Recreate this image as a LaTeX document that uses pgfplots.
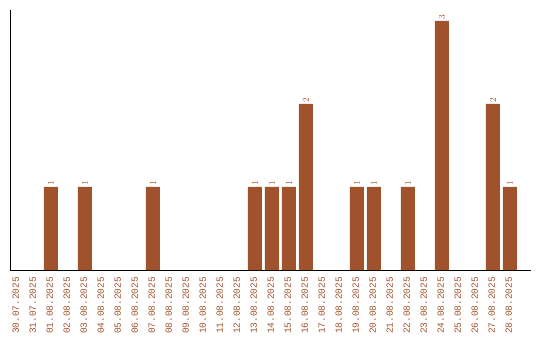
\documentclass[border=0pt]{standalone}
\usepackage{pgfplots}
\pgfplotsset{compat=1.18}
\usepackage{fontspec}
\setmainfont{Liberation Mono}
\definecolor{bar}{HTML}{A0522D}
\begin{document}
\begin{tikzpicture}[x=1bp,y=1bp]
\useasboundingbox (-10bp,-70bp) rectangle (530bp,270bp);
\begin{axis}[
  at={(0,0)}, anchor=south west,
  scale only axis, width=521bp, height=260bp,
  xmin=-0.41, xmax=30.24, ymin=0, ymax=3.13,
  axis x line=bottom, axis y line=left,
  axis line style={-, line width=1bp, black},
  ytick=\empty,
  xtick={0,...,29},
  xticklabels={30.07.2025,31.07.2025,01.08.2025,02.08.2025,03.08.2025,04.08.2025,05.08.2025,06.08.2025,07.08.2025,08.08.2025,09.08.2025,10.08.2025,11.08.2025,12.08.2025,13.08.2025,14.08.2025,15.08.2025,16.08.2025,17.08.2025,18.08.2025,19.08.2025,20.08.2025,21.08.2025,22.08.2025,23.08.2025,24.08.2025,25.08.2025,26.08.2025,27.08.2025,28.08.2025},
  major tick length=0pt,
  xticklabel style={rotate=90, anchor=east, font=\fontsize{9.5}{10}\selectfont, text=bar, inner sep=0pt, outer sep=0pt, xshift=-7bp},
  typeset ticklabels with strut=false,
  nodes near coords,
  every node near coord/.append style={rotate=90, anchor=west, font=\fontsize{9.5}{10}\selectfont, text=bar, inner sep=1bp},
]
\addplot[ybar, bar width=14bp, fill=bar, draw=none] coordinates {
(2,1) (4,1) (8,1) (14,1) (15,1) (16,1) (17,2) (20,1) (21,1) (23,1) (25,3) (28,2) (29,1)
};
\end{axis}
\end{tikzpicture}
\end{document}
